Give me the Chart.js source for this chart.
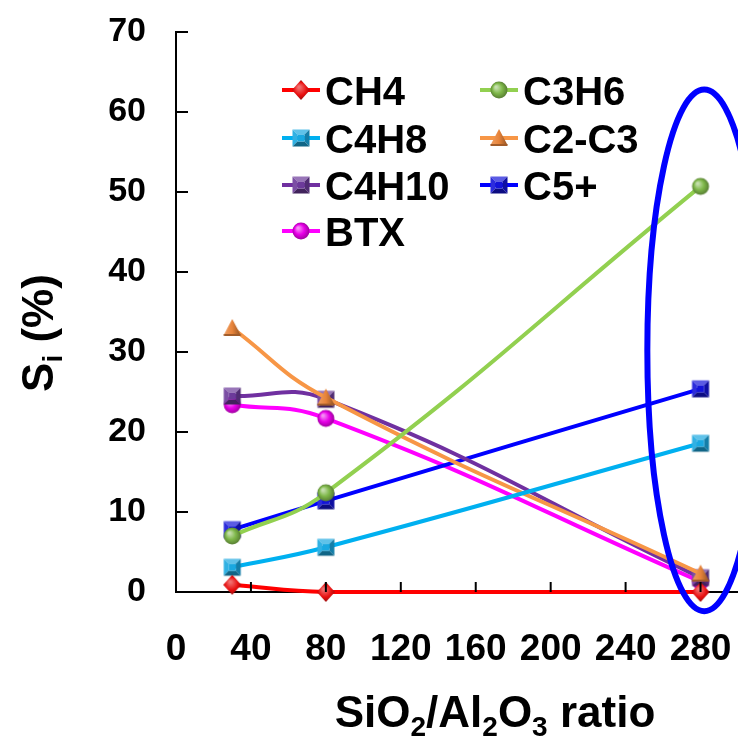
<!DOCTYPE html>
<html>
<head>
<meta charset="utf-8">
<script src="https://cdn.jsdelivr.net/npm/chart.js@4.4.0/dist/chart.umd.min.js"></script>
<style>
  html, body { margin: 0; padding: 0; background: #fff; }
  #wrap { width: 738px; height: 740px; }
</style>
</head>
<body>
<div id="wrap"><canvas id="selectivity" width="738" height="740"></canvas></div>
<script>
// SiO2/Al2O3 ratios of the three catalysts
const ratios = [30, 80, 280];

// product selectivity S_i (%)
const ch4    = [0.9, 0.0, 0.0];
const c3h6   = [7.0, 12.4, 50.7];
const c4h8   = [3.1, 5.6, 18.6];
const c2c3   = [33.0, 24.3, 2.3];
const c4h10  = [24.5, 24.1, 1.8];
const c5plus = [7.8, 11.4, 25.4];
const btx    = [23.4, 21.7, 1.3];

const xTicks = [0, 40, 80, 120, 160, 200, 240, 280];
const yTicks = [0, 10, 20, 30, 40, 50, 60, 70];

const FONT = 'Liberation Sans, Arial, Helvetica, sans-serif';

function shade(hex, f) {
  const n = parseInt(hex.slice(1), 16);
  let r = n >> 16, g = (n >> 8) & 255, b = n & 255;
  const t = f < 0 ? 0 : 255, p = Math.abs(f);
  r = Math.round(r + (t - r) * p);
  g = Math.round(g + (t - g) * p);
  b = Math.round(b + (t - b) * p);
  return 'rgb(' + r + ',' + g + ',' + b + ')';
}

// little shaded marker images, used as pointStyle
function makeMarker(shape, color) {
  const size = 22;
  const c = document.createElement('canvas');
  c.width = c.height = size;
  const g = c.getContext('2d');
  const m = size / 2;
  const poly = (pts, fill) => {
    g.beginPath();
    g.moveTo(pts[0][0], pts[0][1]);
    for (let i = 1; i < pts.length; i++) g.lineTo(pts[i][0], pts[i][1]);
    g.closePath();
    g.fillStyle = fill;
    g.fill();
  };
  if (shape === 'square') {
    const h = 8.5, k = 3.5;
    poly([[m-h,m-h],[m+h,m-h],[m+k,m-k],[m-k,m-k]], shade(color, 0.3));
    poly([[m-h,m-h],[m-k,m-k],[m-k,m+k],[m-h,m+h]], shade(color, 0.1));
    poly([[m+h,m-h],[m+h,m+h],[m+k,m+k],[m+k,m-k]], shade(color, -0.25));
    poly([[m-h,m+h],[m-k,m+k],[m+k,m+k],[m+h,m+h]], shade(color, -0.4));
    g.fillStyle = color;
    g.fillRect(m-k, m-k, 2*k, 2*k);
  } else if (shape === 'circle') {
    const grd = g.createRadialGradient(m-3, m-3, 1, m, m, 9);
    grd.addColorStop(0, shade(color, 0.55));
    grd.addColorStop(0.5, color);
    grd.addColorStop(1, shade(color, -0.35));
    g.beginPath();
    g.arc(m, m, 8.5, 0, Math.PI * 2);
    g.fillStyle = grd;
    g.fill();
  } else if (shape === 'triangle') {
    const grd = g.createLinearGradient(m-8, 0, m+8, 0);
    grd.addColorStop(0, shade(color, 0.2));
    grd.addColorStop(0.5, color);
    grd.addColorStop(1, shade(color, -0.35));
    poly([[m, m-9],[m+8.5, m+7],[m-8.5, m+7]], grd);
    g.fillStyle = shade(color, -0.3);
    g.fillRect(m-8.5, m+6, 17, 2);
  } else if (shape === 'diamond') {
    const grd = g.createRadialGradient(m-2, m-3, 1, m, m, 10);
    grd.addColorStop(0, shade(color, 0.4));
    grd.addColorStop(0.6, color);
    grd.addColorStop(1, shade(color, -0.35));
    poly([[m, m-10],[m+9, m],[m, m+10],[m-9, m]], grd);
  }
  return c;
}

const series = [
  { label: 'CH4',   data: ch4,    color: '#ff0000', mark: 'diamond',  fill: '#e81010' },
  { label: 'C3H6',  data: c3h6,   color: '#92d050', mark: 'circle',   fill: '#7fb84a' },
  { label: 'C4H8',  data: c4h8,   color: '#00b0f0', mark: 'square',   fill: '#1aa8e0' },
  { label: 'C2-C3', data: c2c3,   color: '#f79646', mark: 'triangle', fill: '#e8843a' },
  { label: 'C4H10', data: c4h10,  color: '#7030a0', mark: 'square',   fill: '#6c3a9a' },
  { label: 'C5+',   data: c5plus, color: '#0000ff', mark: 'square',   fill: '#1414d8' },
  { label: 'BTX',   data: btx,    color: '#ff00ff', mark: 'circle',   fill: '#e800e8' }
];

const datasets = series.map(s => ({
  label: s.label,
  data: s.data.map((v, i) => ({ x: ratios[i], y: v })),
  borderColor: s.color,
  backgroundColor: s.color,
  borderWidth: 4,
  tension: 0.45,
  pointStyle: makeMarker(s.mark, s.fill),
  pointRadius: 9,
  clip: false
}));

const decorations = {
  id: 'decorations',
  afterDatasetsDraw(chart) {
    const { ctx, scales: { x, y } } = chart;
    // highlight ring around the high-ratio catalyst
    const cx = x.getPixelForValue(282), cy = y.getPixelForValue(30.2);
    const rx = x.getPixelForValue(282 + 30.4) - cx;
    const ry = y.getPixelForValue(30.2 - 32.6) - cy;
    ctx.save();
    ctx.beginPath();
    ctx.ellipse(cx, cy, rx, ry, 0, 0, Math.PI * 2);
    ctx.strokeStyle = '#0000ff';
    ctx.lineWidth = 6;
    ctx.stroke();
    ctx.restore();
  },
  afterDraw(chart) {
    const { ctx, chartArea: a, scales: { x, y } } = chart;
    ctx.save();
    // inward tick marks
    ctx.strokeStyle = '#000';
    ctx.lineWidth = 2;
    xTicks.forEach(v => {
      if (v === 0) return;
      const px = x.getPixelForValue(v);
      ctx.beginPath();
      ctx.moveTo(px, a.bottom);
      ctx.lineTo(px, a.bottom - 10);
      ctx.stroke();
    });
    yTicks.forEach(v => {
      if (v === 0) return;
      const py = y.getPixelForValue(v);
      ctx.beginPath();
      ctx.moveTo(a.left, py);
      ctx.lineTo(a.left + 12, py);
      ctx.stroke();
    });

    ctx.fillStyle = '#000';
    ctx.textBaseline = 'alphabetic';

    // x axis title with subscripts
    const big = 'bold 44px ' + FONT, small = 'bold 28px ' + FONT;
    const xParts = [['SiO', big, 0], ['2', small, 9], ['/Al', big, 0], ['2', small, 9],
                    ['O', big, 0], ['3', small, 9], [' ratio', big, 0]];
    let w = 0;
    xParts.forEach(p => { ctx.font = p[1]; w += ctx.measureText(p[0]).width; });
    let px = 495 - w / 2;
    xParts.forEach(p => {
      ctx.font = p[1];
      ctx.fillText(p[0], px, 727 + p[2]);
      px += ctx.measureText(p[0]).width;
    });

    // y axis title, rotated
    ctx.save();
    ctx.translate(53, 333);
    ctx.rotate(-Math.PI / 2);
    const yParts = [['S', big, 0], ['i', small, 9], [' (%)', big, 0]];
    w = 0;
    yParts.forEach(p => { ctx.font = p[1]; w += ctx.measureText(p[0]).width; });
    px = -w / 2;
    yParts.forEach(p => {
      ctx.font = p[1];
      ctx.fillText(p[0], px, p[2]);
      px += ctx.measureText(p[0]).width;
    });
    ctx.restore();

    // legend, two columns inside the plot
    const colX = [282, 480];
    const rowY = [90, 138, 185, 231];
    ctx.font = 'bold 40px ' + FONT;
    chart.data.datasets.forEach((ds, i) => {
      const lx = colX[i % 2], ly = rowY[Math.floor(i / 2)];
      ctx.strokeStyle = ds.borderColor;
      ctx.lineWidth = 4;
      ctx.beginPath();
      ctx.moveTo(lx, ly);
      ctx.lineTo(lx + 38, ly);
      ctx.stroke();
      const img = ds.pointStyle;
      ctx.drawImage(img, lx + 19 - img.width / 2, ly - img.height / 2);
      ctx.fillStyle = '#000';
      ctx.fillText(ds.label, lx + 43, ly + 14.5);
    });
    ctx.restore();
  }
};

new Chart(document.getElementById('selectivity'), {
  type: 'line',
  data: { datasets: datasets },
  options: {
    responsive: false,
    animation: false,
    devicePixelRatio: 1,
    layout: { autoPadding: false, padding: { top: 32, right: 0, left: 0, bottom: 0 } },
    plugins: {
      legend: { display: false },
      tooltip: { enabled: false }
    },
    scales: {
      x: {
        type: 'linear',
        min: 0,
        max: 300,
        afterBuildTicks: s => { s.ticks = xTicks.map(v => ({ value: v })); },
        afterFit: s => { s.height = 148; s.paddingLeft = 0; s.paddingRight = 0; },
        grid: { display: false, drawTicks: false },
        border: { display: true, color: '#000', width: 2 },
        ticks: { color: '#000', padding: 36, maxRotation: 0, autoSkip: false,
                 font: { family: FONT, size: 37, weight: 'bold' } }
      },
      y: {
        type: 'linear',
        min: 0,
        max: 70,
        afterBuildTicks: s => { s.ticks = yTicks.map(v => ({ value: v })); },
        afterFit: s => { s.width = 176; s.paddingTop = 0; s.paddingBottom = 0; },
        grid: { display: false, drawTicks: false },
        border: { display: true, color: '#000', width: 2 },
        ticks: { color: '#000', padding: 30,
                 font: { family: FONT, size: 34, weight: 'bold' } }
      }
    }
  },
  plugins: [decorations]
});
</script>
</body>
</html>
